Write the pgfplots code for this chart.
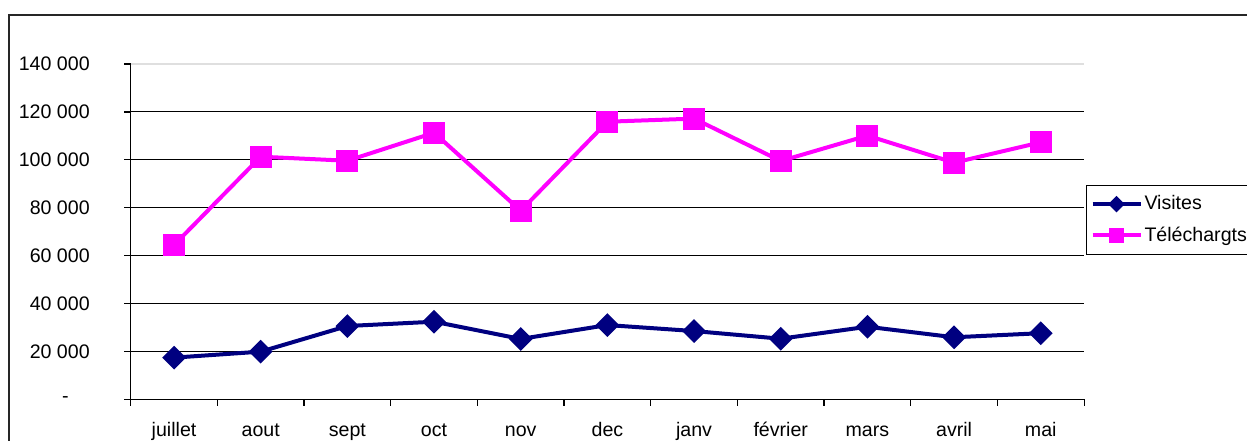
\documentclass[border=0pt]{standalone}
\usepackage{fontspec}
\setmainfont{Liberation Sans}
\usepackage{pgfplots}
\pgfplotsset{compat=1.18}
\definecolor{navyc}{RGB}{0,0,128}
\definecolor{magc}{RGB}{255,0,255}
\begin{document}
\begin{tikzpicture}
\draw[line width=0.6pt, black!85] (4.5pt,-10pt) -- (4.5pt,212.5pt) -- (640pt,212.5pt);
\begin{axis}[
  at={(65.35pt,20.35pt)}, anchor=south west,
  scale only axis, width=476.7pt, height=167.65pt,
  xmin=-0.5, xmax=10.5, ymin=0, ymax=140000,
  scaled y ticks=false,
  font=\fontsize{9.8}{11.8}\selectfont,
  axis x line*=bottom, axis y line*=left,
  axis line style={-, black, line width=0.6pt},
  tick align=outside, major tick length=3.3pt,
  tick style={black, line width=0.6pt},
  xtick={-0.5,0.5,...,10.5}, xticklabels={},
  extra x ticks={0,1,2,3,4,5,6,7,8,9,10},
  extra x tick labels={juillet,aout,sept,oct,nov,dec,janv,février,mars,avril,mai},
  extra x tick style={tick style={draw=none}},
  xticklabel style={anchor=base, inner sep=0pt, yshift=-15.3pt},
  ytick={0,20000,40000,60000,80000,100000,120000},
  yticklabels={{-\hspace*{10.5pt}},20 000,40 000,60 000,80 000,100 000,120 000},
  extra y ticks={140000}, extra y tick labels={140 000},
  extra y tick style={grid style={gray!25, line width=0.8pt}},
  yticklabel style={inner sep=0pt, xshift=-17pt},
  ymajorgrids, grid style={black, line width=0.5pt},
  legend style={at={(1.002,0.639)}, anchor=north west, draw=black, line width=0.5pt,
    font=\fontsize{9.8}{11.8}\selectfont, row sep=3pt, inner xsep=2pt, inner ysep=3pt,
    nodes={inner xsep=1pt}},
  legend cell align=left,
  legend image code/.code={\draw[mark repeat=2, mark phase=2, every mark/.append style={scale=0.6}] plot coordinates {(0pt,0pt) (12pt,0pt) (24pt,0pt)};},
]
\addplot[navyc, line width=2pt, mark=square*, mark size=3.2pt, mark options={rotate=45, solid}] coordinates {
(0,17400) (1,19900) (2,30600) (3,32400) (4,25200) (5,31000) (6,28500) (7,25300) (8,30300) (9,25900) (10,27600)};
\addlegendentry{Visites}
\addplot[magc, line width=2pt, mark=square*, mark size=4.5pt, mark options={solid}] coordinates {
(0,64400) (1,101300) (2,99600) (3,111300) (4,78750) (5,115900) (6,117200) (7,99500) (8,110100) (9,98800) (10,107300)};
\addlegendentry{Téléchargts}
\end{axis}
\pgfresetboundingbox
\useasboundingbox (0,0) rectangle (623.5pt,220pt);
\end{tikzpicture}
\end{document}
